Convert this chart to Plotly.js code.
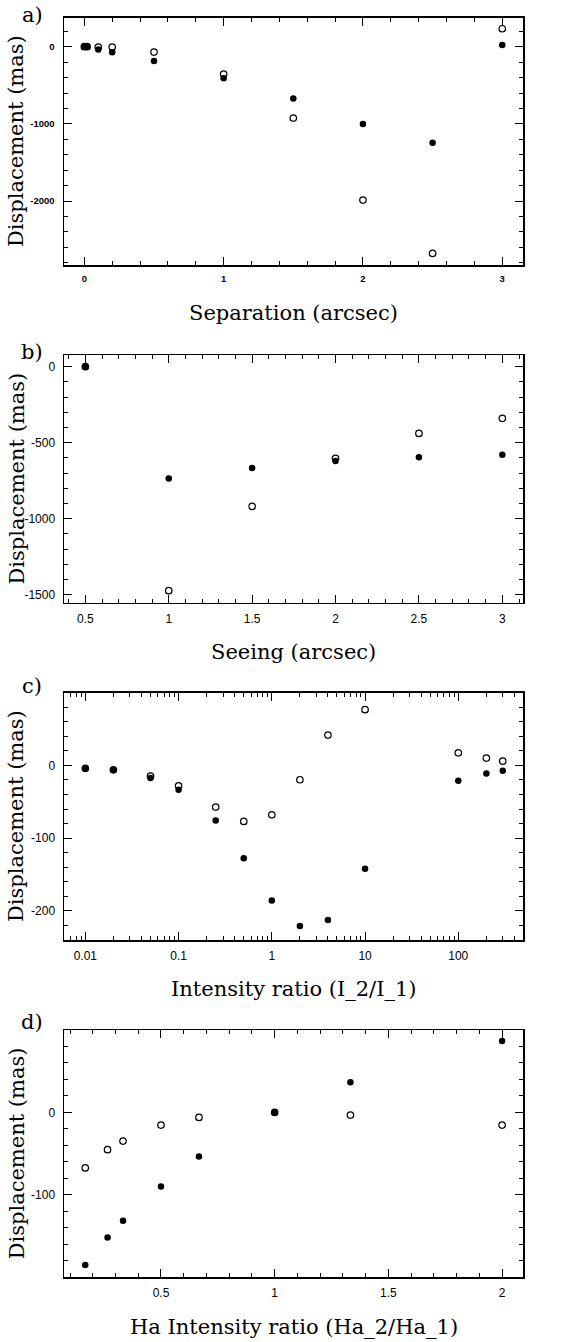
<!DOCTYPE html>
<html>
<head>
<meta charset="utf-8">
<script src="https://cdn.plot.ly/plotly-3.0.1.min.js"></script>
<style>html,body{margin:0;padding:0;background:#fff;}#chart{width:563px;height:1342px;}</style>
</head>
<body>
<div id="chart"></div>
<script>
// Panel a: Separation (arcsec)
const sepX = [0, 0.02, 0.1, 0.2, 0.5, 1, 1.5, 2, 2.5, 3];
const sepFilled = [0, 0, -35, -73, -186, -410, -670, -1002, -1244, 22];
const sepOpen = [0, 0, -5, -5, -70, -354, -924, -1987, -2678, 233];
const sepXTicks = [0, 1, 2, 3];
const sepXTickText = ['0', '1', '2', '3'];
const sepYTicks = [0, -1000, -2000];
const sepYTickText = ['0', '-1000', '-2000'];

// Panel b: Seeing (arcsec)
const seeX = [0.5, 1, 1.5, 2, 2.5, 3];
const seeFilled = [0, -735, -667, -620, -596, -579];
const seeOpen = [0, -1474, -919, -603, -439, -340];
const seeXTicks = [0.5, 1, 1.5, 2, 2.5, 3];
const seeXTickText = ['0.5', '1', '1.5', '2', '2.5', '3'];
const seeYTicks = [0, -500, -1000, -1500];
const seeYTickText = ['0', '-500', '-1000', '-1500'];

// Panel c: Intensity ratio (I_2/I_1)
const intX = [0.01, 0.02, 0.05, 0.1, 0.25, 0.5, 1, 2, 4, 10, 100, 200, 300];
const intFilled = [-4.6, -6.4, -17.4, -33.5, -75.7, -127.5, -185.8, -220.6, -212.4, -142.2, -21.1, -11, -7.3];
const intOpen = [-4, -6, -14.7, -28, -57.3, -77, -67.9, -19.7, 41.7, 76.6, 17.4, 10.1, 6];
const intXTicks = [0.01, 0.1, 1, 10, 100];
const intXTickText = ['0.01', '0.1', '1', '10', '100'];
const intYTicks = [0, -100, -200];
const intYTickText = ['0', '-100', '-200'];

// Panel d: Ha Intensity ratio (Ha_2/Ha_1)
const haX = [0.167, 0.265, 0.333, 0.5, 0.667, 1, 1.333, 2];
const haFilled = [-185, -151.6, -131.5, -90, -53.6, 0, 36.7, 86.7];
const haOpen = [-67.3, -45.2, -34.7, -15.3, -6, 0, -3.2, -15.3];
const haXTicks = [0.5, 1, 1.5, 2];
const haXTickText = ['0.5', '1', '1.5', '2'];
const haYTicks = [0, -100];
const haYTickText = ['0', '-100'];

const panelLabels = ['a)', 'b)', 'c)', 'd)'];
const xTitles = ['Separation (arcsec)', 'Seeing (arcsec)', 'Intensity ratio (I_2/I_1)', 'Ha Intensity ratio (Ha_2/Ha_1)'];
const yTitle = 'Displacement (mas)';

const W = 563, H = 1342;
const px = v => v / W;
const py = v => 1 - v / H;

const frames = [
  {top: 17.7, bottom: 265},
  {top: 355, bottom: 602.7},
  {top: 692.7, bottom: 940},
  {top: 1030, bottom: 1277.3}
];
const frameLeft = 64, frameRight = 523;
const xTitleY = [313, 651.7, 989, 1327];
const labelY = [15, 352, 686, 1022];

const panels = [
  {x: sepX, f: sepFilled, o: sepOpen},
  {x: seeX, f: seeFilled, o: seeOpen},
  {x: intX, f: intFilled, o: intOpen},
  {x: haX, f: haFilled, o: haOpen}
];

const traces = [];
panels.forEach((p, i) => {
  const xa = i === 0 ? 'x' : 'x' + (i + 1);
  const ya = i === 0 ? 'y' : 'y' + (i + 1);
  traces.push({x: p.x, y: p.o, xaxis: xa, yaxis: ya, type: 'scatter', mode: 'markers',
    marker: {symbol: 'circle-open', size: 6.5, color: '#000', line: {width: 1.2, color: '#000'}}, showlegend: false, hoverinfo: 'skip'});
  traces.push({x: p.x, y: p.f, xaxis: xa, yaxis: ya, type: 'scatter', mode: 'markers',
    marker: {symbol: 'circle', size: 6.5, color: '#000', line: {width: 0}}, showlegend: false, hoverinfo: 'skip'});
});

function axisBase(extra) {
  return Object.assign({
    showline: true, linecolor: '#000', linewidth: 1.5, mirror: 'allticks',
    ticks: 'inside', ticklen: 8, tickwidth: 1, tickcolor: '#000',
    showgrid: false, zeroline: false, automargin: false, fixedrange: true,
    tickmode: 'array',
    tickfont: {family: 'Liberation Sans, Arial, sans-serif', size: 12, color: '#000'}
  }, extra);
}

const boldFont = {family: 'Liberation Sans, Arial, sans-serif', size: 9.5, color: '#000', weight: 'bold'};

const layout = {
  width: W, height: H,
  margin: {l: 0, r: 0, t: 0, b: 0},
  paper_bgcolor: '#fff', plot_bgcolor: '#fff',
  showlegend: false,
  xaxis: axisBase({domain: [px(frameLeft), px(frameRight)], anchor: 'y', range: [-0.146, 3.149],
    tickvals: sepXTicks, ticktext: sepXTickText, tickfont: boldFont, ticklabelstandoff: 4,
    minor: {ticks: 'inside', ticklen: 4, dtick: 0.2, tick0: 0, tickcolor: '#000', tickwidth: 1}}),
  yaxis: axisBase({domain: [py(frames[0].bottom), py(frames[0].top)], anchor: 'x', range: [-2828, 376],
    tickvals: sepYTicks, ticktext: sepYTickText, tickfont: boldFont, ticklabelstandoff: 6,
    minor: {ticks: 'inside', ticklen: 4, dtick: 200, tick0: 0, tickcolor: '#000', tickwidth: 1}}),
  xaxis2: axisBase({domain: [px(frameLeft), px(frameRight)], anchor: 'y2', range: [0.372, 3.124],
    tickvals: seeXTicks, ticktext: seeXTickText, ticklabelstandoff: 4,
    minor: {ticks: 'inside', ticklen: 4, dtick: 0.1, tick0: 0, tickcolor: '#000', tickwidth: 1}}),
  yaxis2: axisBase({domain: [py(frames[1].bottom), py(frames[1].top)], anchor: 'x2', range: [-1553, 77],
    tickvals: seeYTicks, ticktext: seeYTickText, ticklabelstandoff: 5,
    minor: {ticks: 'inside', ticklen: 4, dtick: 100, tick0: 0, tickcolor: '#000', tickwidth: 1}}),
  xaxis3: axisBase({domain: [px(frameLeft), px(frameRight)], anchor: 'y3', type: 'log', range: [-2.229, 2.694],
    tickvals: intXTicks, ticktext: intXTickText, ticklabelstandoff: 4,
    minor: {ticks: 'inside', ticklen: 4, dtick: 'D1', tickcolor: '#000', tickwidth: 1}}),
  yaxis3: axisBase({domain: [py(frames[2].bottom), py(frames[2].top)], anchor: 'x3', range: [-240, 100],
    tickvals: intYTicks, ticktext: intYTickText, ticklabelstandoff: 5,
    minor: {ticks: 'inside', ticklen: 4, dtick: 20, tick0: 0, tickcolor: '#000', tickwidth: 1}}),
  xaxis4: axisBase({domain: [px(frameLeft), px(frameRight)], anchor: 'y4', range: [0.0735, 2.092],
    tickvals: haXTicks, ticktext: haXTickText, ticklabelstandoff: 4,
    minor: {ticks: 'inside', ticklen: 4, dtick: 0.1, tick0: 0, tickcolor: '#000', tickwidth: 1}}),
  yaxis4: axisBase({domain: [py(frames[3].bottom), py(frames[3].top)], anchor: 'x4', range: [-200, 100],
    tickvals: haYTicks, ticktext: haYTickText, ticklabelstandoff: 5,
    minor: {ticks: 'inside', ticklen: 4, dtick: 20, tick0: 0, tickcolor: '#000', tickwidth: 1}}),
  annotations: []
};

const serif = {family: 'DejaVu Serif, serif', size: 21, color: '#000'};
frames.forEach((fr, i) => {
  layout.annotations.push({xref: 'paper', yref: 'paper', x: px(32), y: py(labelY[i]), xanchor: 'center', yanchor: 'middle',
    text: panelLabels[i], showarrow: false, font: serif});
  layout.annotations.push({xref: 'paper', yref: 'paper', x: px((frameLeft + frameRight) / 2), y: py(xTitleY[i]), xanchor: 'center', yanchor: 'middle',
    text: xTitles[i], showarrow: false, font: serif});
  layout.annotations.push({xref: 'paper', yref: 'paper', x: px(16.7), y: py((fr.top + fr.bottom) / 2), xanchor: 'center', yanchor: 'middle',
    text: yTitle, textangle: -90, showarrow: false, font: serif});
});

Plotly.newPlot('chart', traces, layout, {displayModeBar: false, staticPlot: true});
</script>
</body>
</html>
